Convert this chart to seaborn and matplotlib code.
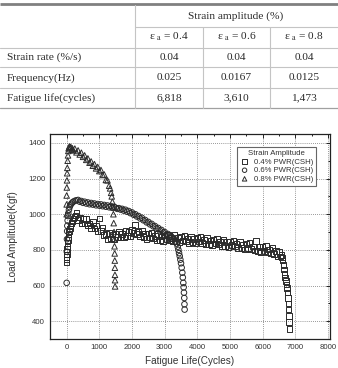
import numpy as np
import matplotlib
matplotlib.use("Agg")
import matplotlib.pyplot as plt
from matplotlib.ticker import MultipleLocator
import seaborn as sns
import pandas as pd

# table content
row_labels = ["Strain rate (%/s)", "Frequency(Hz)", "Fatigue life(cycles)"]
col_labels = ["ε $_{\\mathrm{a}}$ = 0.4", "ε $_{\\mathrm{a}}$ = 0.6", "ε $_{\\mathrm{a}}$ = 0.8"]
strain_rate = ["0.04", "0.04", "0.04"]
frequency = ["0.025", "0.0167", "0.0125"]
fatigue_life = ["6,818", "3,610", "1,473"]

# 0.8% PWR(CSH) - triangles
x08 = [0, 0, 0, 5, 10, 15, 20, 30, 40, 50, 60, 80, 100, 125, 150, 175, 200,
       250, 300, 350, 400, 450, 500, 550, 600, 650, 700, 750, 800, 850, 900, 950, 1000,
       1050, 1100, 1150, 1200, 1250, 1300,
       1330, 1360, 1380, 1400, 1415, 1430, 1440, 1450, 1458, 1465, 1470, 1473, 1476, 1478, 1480, 1482]
y08 = [1000, 1055, 1105, 1150, 1190, 1230, 1260, 1300, 1330, 1355, 1370, 1380, 1372, 1378, 1362, 1370, 1358,
       1368, 1347, 1358, 1335, 1345, 1322, 1330, 1305, 1313, 1289, 1296, 1272, 1281, 1257, 1265, 1242,
       1248, 1220, 1223, 1192, 1190, 1160,
       1145, 1120, 1100, 1070, 1040, 1000, 950, 900, 860, 820, 780, 740, 700, 660, 630, 595]

# 0.6% PWR(CSH) - circles
x06 = [0, 5, 10, 15, 20, 30, 40, 50, 70, 90, 110, 140, 170, 200, 250, 300,
       350, 400, 450, 500, 550, 600, 650, 700, 750, 800, 850, 900, 950, 1000, 1050, 1100,
       1150, 1200, 1250, 1300, 1350, 1400, 1450,
       1500, 1550, 1600, 1650, 1700, 1750, 1800, 1850, 1900, 1950, 2000, 2050, 2100, 2150,
       2200, 2250, 2300, 2350, 2400, 2450, 2500, 2550, 2600, 2650, 2700, 2750, 2800, 2850,
       2900, 2950, 3000, 3050, 3100, 3150, 3200, 3250, 3300,
       3340, 3370, 3400, 3420, 3440, 3460, 3480, 3500, 3520, 3540, 3555, 3570, 3580, 3590, 3600, 3605, 3610]
y06 = [615, 790, 860, 905, 935, 965, 990, 1005, 1025, 1040, 1050, 1058, 1065, 1070, 1075, 1078,
       1080, 1070, 1074, 1064, 1070, 1060, 1066, 1056, 1063, 1054, 1060, 1050, 1057, 1048, 1055, 1045,
       1052, 1042, 1049, 1039, 1046, 1036, 1042,
       1036, 1030, 1034, 1026, 1030, 1020, 1025, 1014, 1018, 1006, 1010, 997, 1000, 987,
       990, 976, 980, 966, 968, 954, 957, 943, 946, 932, 934, 920, 923, 909,
       912, 897, 900, 886, 889, 874, 876, 862, 860,
       848, 835, 818, 800, 782, 765, 745, 725, 700, 672, 645, 615, 590, 560, 530, 495, 465]

# 0.4% PWR(CSH) - squares
x04 = [0, 0, 0, 5, 10, 15, 20, 30, 40, 50, 60, 80, 100, 120, 150, 180, 210, 240, 270,
       300, 350, 400, 450, 500, 550, 600, 650, 700, 750, 800, 850, 900, 950, 1000, 1050,
       1100, 1150, 1200, 1250, 1300, 1350, 1400, 1450, 1500, 1550, 1600, 1650, 1700, 1750,
       1800, 1850, 1900, 1950, 2000, 2050, 2100, 2150, 2200, 2250, 2300, 2350, 2400, 2450,
       2500, 2550, 2600, 2650, 2700, 2750, 2800, 2850, 2900, 2950, 3000, 3050, 3100, 3150,
       3200, 3250, 3300, 3350, 3400, 3450, 3500, 3550, 3600, 3650, 3700, 3750, 3800, 3850,
       3900, 3950, 4000, 4050, 4100, 4150, 4200, 4250, 4300, 4350, 4400, 4450, 4500, 4550,
       4600, 4650, 4700, 4750, 4800, 4850, 4900, 4950, 5000, 5050, 5100, 5150, 5200, 5250,
       5300, 5350, 5400, 5450, 5500, 5550, 5600, 5650, 5700, 5750, 5800, 5850, 5900, 5950,
       6000, 6050, 6100, 6150, 6200, 6250, 6300, 6350, 6400, 6450, 6500, 6550,
       6570, 6590, 6610, 6630, 6650, 6670, 6690, 6710, 6730, 6745, 6760, 6772, 6784, 6795,
       6805, 6812, 6818]
y04 = [730, 745, 760, 775, 790, 805, 820, 840, 855, 870, 885, 905, 920, 935, 950, 962, 975, 985, 992,
       1008, 967, 981, 948, 974, 949, 972, 936, 948, 923, 956, 919, 936, 905, 975, 905,
       925, 883, 888, 862, 896, 864, 886, 859, 890, 872, 902, 871, 888, 869,
       908, 877, 901, 877, 912, 894, 940, 889, 901, 876, 908, 872, 891, 862,
       892, 870, 896, 863, 877, 855, 890, 856, 876, 849, 880, 859, 886, 854,
       868, 846, 882, 848, 869, 842, 874, 853, 880, 848, 862, 840, 876, 842,
       862, 836, 867, 846, 873, 840, 854, 832, 867, 833, 853, 826, 857, 836,
       863, 830, 844, 822, 857, 823, 843, 816, 847, 826, 852, 819, 833, 811,
       845, 811, 831, 803, 834, 812, 839, 805, 818, 796, 850, 795, 815, 787,
       817, 795, 822, 788, 801, 779, 813, 776, 794, 764, 792, 762,
       772, 758, 740, 715, 690, 665, 645, 625, 605, 585, 560, 530, 500, 465,
       430, 395, 355]

series_names = ["0.4% PWR(CSH)", "0.6% PWR(CSH)", "0.8% PWR(CSH)"]
series_markers = ["s", "o", "^"]

df = pd.concat([
    pd.DataFrame({"cycles": x04, "load": y04, "series": series_names[0]}),
    pd.DataFrame({"cycles": x06, "load": y06, "series": series_names[1]}),
    pd.DataFrame({"cycles": x08, "load": y08, "series": series_names[2]}),
])

sns.set_style("white")
plt.rcParams["font.family"] = ["Liberation Sans", "DejaVu Sans"]
plt.rcParams["mathtext.fontset"] = "stix"

fig = plt.figure(figsize=(3.38, 3.68), dpi=100)

# ---- table drawn in pixel coordinates ----
tab = fig.add_axes([0, 0, 1, 1])
tab.set_xlim(0, 338)
tab.set_ylim(368, 0)
tab.axis("off")
tab.patch.set_visible(False)

serif = ["Liberation Serif", "DejaVu Serif"]
tc = "#2a2a2a"
light = "#c4c4c4"
tab.plot([0, 338], [3.5, 3.5], color="#808080", lw=2.0, solid_capstyle="butt")
tab.plot([135, 338], [27, 27], color=light, lw=0.8)
tab.plot([0, 338], [47.5, 47.5], color=light, lw=0.8)
tab.plot([0, 338], [67, 67], color=light, lw=0.8)
tab.plot([0, 338], [87.5, 87.5], color=light, lw=0.8)
tab.plot([0, 338], [107.5, 107.5], color="#a0a0a0", lw=0.9)
tab.plot([135, 135], [4.5, 107.5], color=light, lw=0.8)
tab.plot([203, 203], [27, 107.5], color=light, lw=0.8)
tab.plot([270, 270], [27, 107.5], color=light, lw=0.8)

tab.text(236, 16, "Strain amplitude (%)", ha="center", va="center",
         family=serif, fontsize=8.2, color=tc)
col_x = [169, 236.5, 304]
for cx, lab in zip(col_x, col_labels):
    tab.text(cx, 37, lab, ha="center", va="center", family=serif, fontsize=8.2, color=tc)
row_y = [57.5, 78, 98]
for ry, lab, vals in zip(row_y, row_labels, [strain_rate, frequency, fatigue_life]):
    tab.text(7, ry, lab, ha="left", va="center", family=serif, fontsize=8.2, color=tc)
    for cx, v in zip(col_x, vals):
        tab.text(cx, ry, v, ha="center", va="center", family=serif, fontsize=8.2, color=tc)

# ---- scatter chart ----
ax = fig.add_axes([50 / 338, 1 - 339 / 368, 280 / 338, 205 / 368])
for name, mk in zip(series_names, series_markers):
    sns.scatterplot(data=df[df["series"] == name], x="cycles", y="load", ax=ax,
                    marker=mk, s=16, facecolor="none", edgecolor="#2b2b2b",
                    linewidth=0.7, label=name, legend=False)

ax.set_xlim(-510, 8060)
ax.set_ylim(300, 1450)
ax.xaxis.set_major_locator(MultipleLocator(1000))
ax.xaxis.set_minor_locator(MultipleLocator(500))
ax.yaxis.set_major_locator(MultipleLocator(200))
ax.yaxis.set_minor_locator(MultipleLocator(100))
ax.set_yticks([400, 600, 800, 1000, 1200, 1400])
ax.tick_params(which="both", direction="in", top=True, right=True, color="#222222",
               labelsize=5.6, labelcolor="#333333", width=0.7)
ax.tick_params(which="major", length=3)
ax.tick_params(which="minor", length=1.6)
ax.grid(True, which="major", linestyle=(0, (1, 1.5)), color="#777777", lw=0.6)
for sp in ax.spines.values():
    sp.set_color("#222222")
    sp.set_linewidth(0.9)

ax.set_xlabel("Fatigue Life(Cycles)", fontsize=7.2, color="#333333", labelpad=4)
ax.set_ylabel("Load Amplitude(Kgf)", fontsize=7.2, color="#333333")
ax.yaxis.set_label_coords(-32 / 280, 0.5)

handles = ax.collections[:3]
leg = ax.legend(handles=handles, labels=series_names, title="Strain Amplitude",
                loc="upper right", bbox_to_anchor=(0.95, 0.935), fontsize=5.6,
                title_fontsize=5.6, frameon=True, fancybox=False, framealpha=1,
                edgecolor="#666666", borderpad=0.35, labelspacing=0.15,
                handletextpad=0.6, handlelength=1.2, borderaxespad=0, markerscale=0.8)
leg.get_frame().set_linewidth(0.8)
for t in leg.get_texts():
    t.set_color("#333333")
leg.get_title().set_color("#333333")

fig.savefig("out.png", dpi=100)
